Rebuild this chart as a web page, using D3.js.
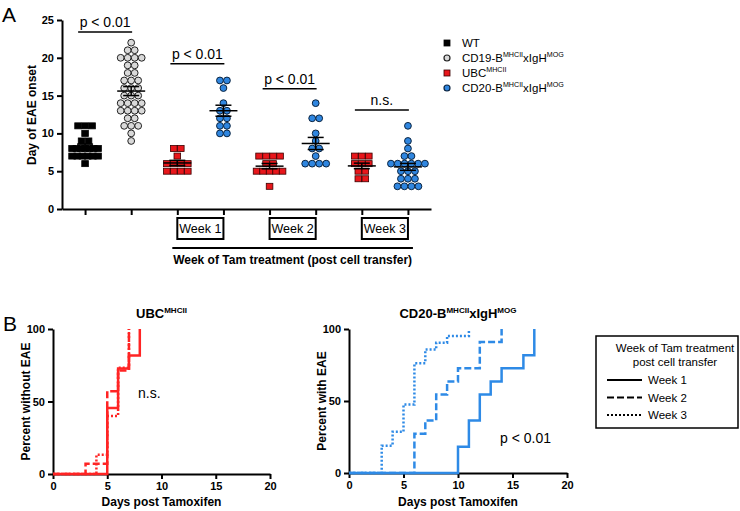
<!DOCTYPE html>
<html>
<head>
<meta charset="utf-8">
<script src="https://cdn.jsdelivr.net/npm/d3@7"></script>
<style>
  html, body { margin: 0; padding: 0; background: #fff; }
  svg, svg text { font-family: "Liberation Sans", Arial, Helvetica, sans-serif; }
  svg { display: block; }
  .tick text { font-weight: bold; font-size: 11px; }
</style>
</head>
<body>
<svg id="chart" width="740" height="511"></svg>
<script>

// ---- panel A data: day of EAE onset per animal ----
var groupKeys  = ["WT", "CD19", "UBC_w1", "CD20_w1", "UBC_w2", "CD20_w2", "UBC_w3", "CD20_w3"];
var groupKinds = ["wt", "cd19", "ubc", "cd20", "ubc", "cd20", "ubc", "cd20"];

var wtOnset    = [11, 11, 11, 10, 9, 9, 8, 8, 8, 8, 8, 8, 8, 7, 7, 7, 7, 7, 7, 6];
var cd19Onset  = [22, 21, 21, 20, 20, 20, 20, 19, 19, 18, 18, 17, 17, 17, 16, 16, 16, 15, 15, 15,
                  14, 14, 14, 14, 13, 13, 13, 13, 12, 12, 11, 11, 11, 10, 9];
var ubcW1Onset  = [8, 8, 7, 6, 6, 6, 6, 5, 5, 5, 5];
var cd20W1Onset = [17, 17, 16, 14, 13, 13, 12, 12, 11, 11, 10, 10];
var ubcW2Onset  = [7, 7, 7, 7, 6, 6, 5, 5, 5, 5, 5, 3];
var cd20W2Onset = [14, 12, 12, 10, 9, 8, 8, 7, 6, 6, 6, 6];
var ubcW3Onset  = [7, 7, 7, 6, 6, 6, 5, 5, 4, 4];
var cd20W3Onset = [11, 9, 8, 7, 7, 6, 6, 6, 6, 6, 6, 5, 5, 5, 4, 4, 4, 3, 3, 3, 3];

var yTicksA    = [0, 5, 10, 15, 20, 25];
var weekLabels = ["Week 1", "Week 2", "Week 3"];
var pLabels    = ["p < 0.01", "p < 0.01", "p < 0.01", "n.s."];
var pLevels    = [23.4, 19.2, 15.9, 13.1];

// ---- panel B data: Kaplan-Meier steps [day, percent] ----
var ubcWeek1  = [[0, 0], [5, 45.5], [6, 72.7], [7, 81.8], [8, 100]];
var ubcWeek2  = [[0, 0], [3, 7.1], [5, 57.1], [6, 71.4], [7, 100]];
var ubcWeek3  = [[0, 0], [4, 13.3], [5, 40], [6, 73.3], [7, 100]];
var cd20Week1 = [[0, 0], [10, 18.2], [11, 36.4], [12, 54.5], [13, 63.6], [14, 72.7], [16, 81.8], [17, 100]];
var cd20Week2 = [[0, 0], [6, 27.3], [7, 36.4], [8, 54.5], [9, 63.6], [10, 72.7], [12, 90.9], [14, 100]];
var cd20Week3 = [[0, 0], [3, 19], [4, 28.6], [5, 47.6], [6, 76.2], [7, 85.7], [8, 90.5], [9, 95.2], [11, 100]];
var dayTicks  = [0, 5, 10, 15, 20];
var pctTicks  = [0, 50, 100];

var onsets = [wtOnset, cd19Onset, ubcW1Onset, cd20W1Onset, ubcW2Onset, cd20W2Onset, ubcW3Onset, cd20W3Onset];

var RED = "#e8161b", BLUE = "#2f86e0", LINE_RED = "#ff2424", LINE_BLUE = "#2e8ae6";
var styles = {
    wt:   { shape: "square", fill: "#000", stroke: "#000" },
    cd19: { shape: "circle", fill: "#d9d9d9", stroke: "#222" },
    ubc:  { shape: "square", fill: RED, stroke: "#3a0000" },
    cd20: { shape: "circle", fill: BLUE, stroke: "#0b2440" }
};

var svg = d3.select("#chart");

// superscript text helper: parts = [[text, isSup], ...]
function richText(sel, parts, size) {
    var up = false;
    parts.forEach(function(p) {
        var t = sel.append("tspan").text(p[0]);
        if (p[1] && !up) { t.attr("dy", -size * 0.4).attr("font-size", size * 0.62); up = true; }
        else if (p[1]) { t.attr("font-size", size * 0.62); }
        else if (up) { t.attr("dy", size * 0.4); up = false; }
    });
    return sel;
}

// =================== Panel A ===================
var xA = d3.scaleLinear().domain([-0.5, 7.5]).range([62, 431]);
var yA = d3.scaleLinear().domain([0, 25]).range([209, 20]);

var gA = svg.append("g");

gA.append("g")
    .attr("transform", "translate(62,0)")
    .call(d3.axisLeft(yA).tickValues(yTicksA).tickSize(5).tickSizeOuter(0))
    .call(function(g) { g.selectAll("path, line").attr("stroke-width", 2); });

gA.append("g")
    .attr("transform", "translate(0,209)")
    .call(d3.axisBottom(xA).tickValues(d3.range(8)).tickFormat("").tickSize(6).tickSizeOuter(0))
    .call(function(g) { g.selectAll("path, line").attr("stroke-width", 2); });

gA.append("text")
    .attr("transform", "translate(36,115) rotate(-90)")
    .attr("text-anchor", "middle")
    .attr("font-size", 12).attr("font-weight", "bold")
    .text("Day of EAE onset");

gA.append("text").attr("x", 2).attr("y", 22).attr("font-size", 21).text("A");

// points
onsets.forEach(function(vals, gi) {
    var st = styles[groupKinds[gi]];
    var rows = d3.group(vals, function(v) { return v; });
    var pts = [];
    var maxW = st.shape === "square" ? 26 : 34;
    rows.forEach(function(list, v) {
        var n = list.length, sp = n > 1 ? Math.min(7, maxW / (n - 1)) : 0;
        list.forEach(function(_, i) { pts.push({ v: v, dx: (i - (n - 1) / 2) * sp }); });
    });
    var g = gA.append("g");
    if (st.shape === "square") {
        g.selectAll("rect").data(pts).join("rect")
            .attr("x", function(d) { return xA(gi) + d.dx - 3.3; })
            .attr("y", function(d) { return yA(d.v) - 3; })
            .attr("width", 6.6).attr("height", 6)
            .attr("fill", st.fill).attr("stroke", st.stroke).attr("stroke-width", 0.8);
    } else {
        g.selectAll("circle").data(pts).join("circle")
            .attr("cx", function(d) { return xA(gi) + d.dx; })
            .attr("cy", function(d) { return yA(d.v); })
            .attr("r", 3.4)
            .attr("fill", st.fill).attr("stroke", st.stroke).attr("stroke-width", 1);
    }
    // mean +/- SEM
    var m = d3.mean(vals), sem = d3.deviation(vals) / Math.sqrt(vals.length);
    var cx = xA(gi);
    var eb = gA.append("g").attr("stroke", "#000").attr("stroke-width", 1.5);
    eb.append("line").attr("x1", cx - 14).attr("x2", cx + 14).attr("y1", yA(m)).attr("y2", yA(m));
    eb.append("line").attr("x1", cx - 8).attr("x2", cx + 8).attr("y1", yA(m + sem)).attr("y2", yA(m + sem));
    eb.append("line").attr("x1", cx - 8).attr("x2", cx + 8).attr("y1", yA(m - sem)).attr("y2", yA(m - sem));
    eb.append("line").attr("x1", cx).attr("x2", cx).attr("y1", yA(m + sem)).attr("y2", yA(m - sem));
});

// significance brackets
pLabels.forEach(function(lab, i) {
    var c = (xA(2 * i) + xA(2 * i + 1)) / 2 - 3;
    var y = yA(pLevels[i]);
    gA.append("line").attr("x1", c - 27).attr("x2", c + 27).attr("y1", y).attr("y2", y)
        .attr("stroke", "#000").attr("stroke-width", 1.5);
    gA.append("text").attr("x", c).attr("y", y - 5).attr("text-anchor", "middle")
        .attr("font-size", 14).text(lab);
});

// week boxes
weekLabels.forEach(function(lab, i) {
    var x0 = xA(2 + 2 * i), x1 = xA(3 + 2 * i);
    gA.append("rect").attr("x", x0).attr("y", 218).attr("width", x1 - x0).attr("height", 21)
        .attr("fill", "none").attr("stroke", "#000").attr("stroke-width", 2);
    gA.append("text").attr("x", (x0 + x1) / 2).attr("y", 233).attr("text-anchor", "middle")
        .attr("font-size", 12.5).text(lab);
});
gA.append("line").attr("x1", xA(2) - 5).attr("x2", xA(7) + 5).attr("y1", 248).attr("y2", 248)
    .attr("stroke", "#000").attr("stroke-width", 2);
gA.append("text").attr("x", (xA(2) + xA(7)) / 2).attr("y", 264).attr("text-anchor", "middle")
    .attr("font-size", 12).attr("font-weight", "bold")
    .text("Week of Tam treatment (post cell transfer)");

// legend A
var legA = [
    { kind: "wt",   parts: [["WT", false]] },
    { kind: "cd19", parts: [["CD19-B", false], ["MHCII", true], ["xIgH", false], ["MOG", true]] },
    { kind: "ubc",  parts: [["UBC", false], ["MHCII", true]] },
    { kind: "cd20", parts: [["CD20-B", false], ["MHCII", true], ["xIgH", false], ["MOG", true]] }
];
legA.forEach(function(d, i) {
    var y = 43 + i * 15, st = styles[d.kind];
    if (st.shape === "square") {
        gA.append("rect").attr("x", 444).attr("y", y - 3).attr("width", 6).attr("height", 6)
            .attr("fill", st.fill).attr("stroke", st.stroke).attr("stroke-width", 0.8);
    } else {
        gA.append("circle").attr("cx", 447).attr("cy", y).attr("r", 3)
            .attr("fill", st.fill).attr("stroke", st.stroke).attr("stroke-width", 1.2);
    }
    richText(gA.append("text").attr("x", 462).attr("y", y + 4).attr("font-size", 11.5), d.parts, 11.5);
});

// =================== Panel B ===================
function kmPanel(opts) {
    var g = svg.append("g");
    var x = d3.scaleLinear().domain([0, 20]).range([opts.x0, opts.x1]);
    var y = d3.scaleLinear().domain([0, 100]).range([opts.y0, opts.y1]);

    var line = d3.line().x(function(d) { return x(d[0]); }).y(function(d) { return y(d[1]); })
        .curve(d3.curveStepAfter);

    g.append("g").attr("transform", "translate(" + opts.x0 + ",0)")
        .call(d3.axisLeft(y).tickValues(pctTicks).tickSize(5).tickSizeOuter(0))
        .call(function(a) { a.selectAll("path, line").attr("stroke-width", 2); });
    g.append("g").attr("transform", "translate(0," + opts.y0 + ")")
        .call(d3.axisBottom(x).tickValues(dayTicks).tickSize(5).tickSizeOuter(0))
        .call(function(a) { a.selectAll("path, line").attr("stroke-width", 2); });

    var dashes = [null, "7,3", "2,2"];
    opts.series.slice().reverse().forEach(function(s, ri) {
        var i = opts.series.length - 1 - ri;
        g.append("path").datum(s).attr("d", line)
            .attr("fill", "none").attr("stroke", opts.color).attr("stroke-width", 2.5)
            .attr("stroke-dasharray", dashes[i]);
    });

    var cx = (opts.x0 + opts.x1) / 2;
    g.append("text").attr("x", cx).attr("y", 506).attr("text-anchor", "middle")
        .attr("font-size", 12).attr("font-weight", "bold").text("Days post Tamoxifen");
    g.append("text")
        .attr("transform", "translate(" + (opts.x0 - 23) + "," + ((opts.y0 + opts.y1) / 2) + ") rotate(-90)")
        .attr("text-anchor", "middle").attr("font-size", 12).attr("font-weight", "bold")
        .text(opts.yTitle);
    richText(g.append("text").attr("x", cx).attr("y", 318).attr("text-anchor", "middle")
        .attr("font-size", 13).attr("font-weight", "bold"), opts.title, 13);
    g.append("text").attr("x", opts.note[0]).attr("y", opts.note[1]).attr("font-size", 14).text(opts.noteText);
    return g;
}

kmPanel({
    x0: 53, x1: 270, y0: 474, y1: 329, color: LINE_RED,
    series: [ubcWeek1, ubcWeek2, ubcWeek3],
    yTitle: "Percent without EAE",
    title: [["UBC", false], ["MHCII", true]],
    note: [138, 398], noteText: "n.s."
});
kmPanel({
    x0: 349, x1: 567, y0: 473, y1: 329, color: LINE_BLUE,
    series: [cd20Week1, cd20Week2, cd20Week3],
    yTitle: "Percent with EAE",
    title: [["CD20-B", false], ["MHCII", true], ["xIgH", false], ["MOG", true]],
    note: [500, 443], noteText: "p < 0.01"
});

svg.append("text").attr("x", 3).attr("y", 331).attr("font-size", 21).text("B");

// legend B
var legB = svg.append("g");
legB.append("rect").attr("x", 596).attr("y", 336).attr("width", 142).attr("height", 92)
    .attr("fill", "#fff").attr("stroke", "#000").attr("stroke-width", 1.5);
legB.append("text").attr("x", 675).attr("y", 352).attr("text-anchor", "middle").attr("font-size", 11.5)
    .text("Week of Tam treatment");
legB.append("text").attr("x", 675).attr("y", 366).attr("text-anchor", "middle").attr("font-size", 11.5)
    .text("post cell transfer");
[null, "7,3", "2,2"].forEach(function(dash, i) {
    var y = 380 + i * 17.5;
    legB.append("line").attr("x1", 607).attr("x2", 642).attr("y1", y).attr("y2", y)
        .attr("stroke", "#000").attr("stroke-width", 2).attr("stroke-dasharray", dash);
    legB.append("text").attr("x", 648).attr("y", y + 4).attr("font-size", 11.5).text(weekLabels[i]);
});

</script>
</body>
</html>
